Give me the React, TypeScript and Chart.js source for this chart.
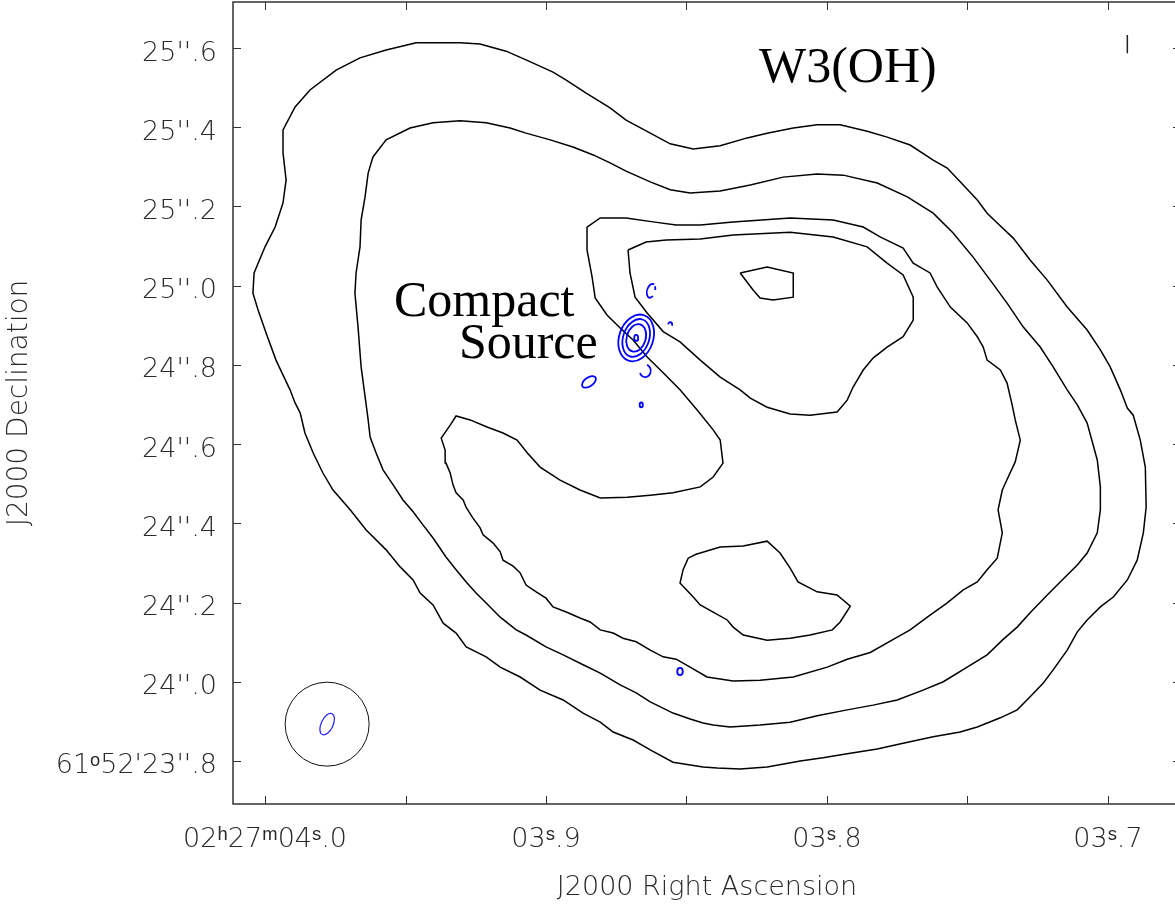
import React, { useEffect, useRef } from "react";
import { Chart, registerables } from "chart.js";

Chart.register(...registerables);

type P = [number, number];

// ---- axis ticks (RA in seconds of time past 02h27m, Dec in arcsec past 61°52') ----
const xTickValues = [4.0, 3.95, 3.9, 3.85, 3.8, 3.75, 3.7];
const xTickLabels = ["02ʰ27ᵐ04ˢ.0", "", "03ˢ.9", "", "03ˢ.8", "", "03ˢ.7"];
const yTickValues = [23.8, 24.0, 24.2, 24.4, 24.6, 24.8, 25.0, 25.2, 25.4, 25.6];
const yTickLabels = ["61ᵒ52'23''.8", "24''.0", "24''.2", "24''.4", "24''.6", "24''.8", "25''.0", "25''.2", "25''.4", "25''.6"];
const xRange: P = [3.674, 4.0114];
const yRange: P = [23.6914, 25.7161];

// ---- black contours (RA s, Dec arcsec) ----
const contourOuter: P[] = [
  [3.9462, 25.613], [3.9377, 25.613], [3.9306, 25.613], [3.9235, 25.61], [3.9142, 25.592], [3.9071, 25.57],
  [3.8975, 25.539], [3.8928, 25.519], [3.8857, 25.486], [3.8772, 25.449], [3.8715, 25.418], [3.8637, 25.388],
  [3.8558, 25.358], [3.8476, 25.345], [3.838, 25.353], [3.8284, 25.373], [3.8213, 25.385], [3.812, 25.398],
  [3.8035, 25.406], [3.7953, 25.406], [3.7857, 25.39], [3.7786, 25.375], [3.7704, 25.355], [3.7622, 25.317],
  [3.7572, 25.297], [3.7515, 25.254], [3.7465, 25.216], [3.743, 25.183], [3.7394, 25.158], [3.7337, 25.12],
  [3.7277, 25.065], [3.7216, 25.014], [3.7145, 24.946], [3.7074, 24.888], [3.7027, 24.838], [3.6992, 24.795],
  [3.6956, 24.737], [3.6931, 24.691], [3.691, 24.673], [3.6885, 24.61], [3.6867, 24.542], [3.6864, 24.441],
  [3.6874, 24.376], [3.6896, 24.307], [3.6931, 24.257], [3.6981, 24.214], [3.7027, 24.189], [3.7074, 24.156],
  [3.7109, 24.126], [3.7145, 24.08], [3.7195, 24.03], [3.723, 23.997], [3.7277, 23.962], [3.7323, 23.929],
  [3.7383, 23.909], [3.7465, 23.886], [3.7526, 23.873], [3.7622, 23.861], [3.7729, 23.845], [3.7821, 23.83],
  [3.7928, 23.818], [3.8014, 23.808], [3.8095, 23.8], [3.8213, 23.785], [3.8309, 23.78], [3.8391, 23.782],
  [3.8441, 23.785], [3.8548, 23.797], [3.8629, 23.828], [3.869, 23.853], [3.8761, 23.873], [3.8807, 23.898],
  [3.8868, 23.921], [3.8939, 23.954], [3.9021, 23.979], [3.9092, 24.012], [3.9163, 24.037], [3.9213, 24.063],
  [3.9284, 24.088], [3.932, 24.123], [3.9366, 24.148], [3.9402, 24.194], [3.9448, 24.224], [3.9473, 24.257],
  [3.9519, 24.29], [3.9569, 24.333], [3.964, 24.383], [3.9697, 24.434], [3.9758, 24.484], [3.9794, 24.527],
  [3.9829, 24.578], [3.9858, 24.628], [3.9875, 24.679], [3.9893, 24.704], [3.9911, 24.737], [3.9961, 24.812],
  [3.9996, 24.88], [4.0025, 24.939], [4.0043, 24.981], [4.0039, 25.032], [4.0, 25.098], [3.9964, 25.148],
  [3.9936, 25.209], [3.9925, 25.267], [3.9936, 25.335], [3.9936, 25.393], [3.9893, 25.451], [3.984, 25.494],
  [3.9747, 25.544], [3.9662, 25.575], [3.9569, 25.595],
];

const contourSecond: P[] = [
  [3.9616, 25.325], [3.9569, 25.368], [3.9484, 25.398], [3.9402, 25.411], [3.9306, 25.416], [3.9213, 25.411],
  [3.9128, 25.398], [3.9071, 25.385], [3.8985, 25.368], [3.8904, 25.35], [3.8832, 25.33], [3.8772, 25.31],
  [3.8715, 25.289], [3.8629, 25.262], [3.8558, 25.242], [3.8487, 25.234], [3.838, 25.239], [3.8273, 25.254],
  [3.8156, 25.274], [3.8035, 25.282], [3.7942, 25.279], [3.7821, 25.259], [3.7714, 25.224], [3.7622, 25.183],
  [3.7551, 25.133], [3.748, 25.072], [3.7419, 25.014], [3.7359, 24.956], [3.7302, 24.896], [3.7241, 24.845],
  [3.7195, 24.795], [3.7145, 24.737], [3.7109, 24.699], [3.7074, 24.653], [3.7038, 24.56], [3.7027, 24.492],
  [3.7027, 24.434], [3.7038, 24.376], [3.7074, 24.325], [3.7109, 24.295], [3.717, 24.252], [3.7216, 24.219],
  [3.7277, 24.174], [3.7323, 24.138], [3.7373, 24.107], [3.743, 24.068], [3.7501, 24.037], [3.7586, 24.0],
  [3.7658, 23.979], [3.775, 23.954], [3.7836, 23.941], [3.7928, 23.929], [3.8035, 23.914], [3.8131, 23.898],
  [3.8238, 23.891], [3.8345, 23.886], [3.8405, 23.891], [3.8441, 23.896], [3.8487, 23.906], [3.8548, 23.921],
  [3.8629, 23.949], [3.8679, 23.972], [3.8736, 23.992], [3.8807, 24.022], [3.8868, 24.043], [3.8939, 24.068],
  [3.9, 24.088], [3.9071, 24.118], [3.9106, 24.131], [3.9163, 24.163], [3.9213, 24.199], [3.9249, 24.224],
  [3.9284, 24.252], [3.932, 24.283], [3.9356, 24.315], [3.9402, 24.363], [3.9438, 24.396], [3.9473, 24.429],
  [3.9509, 24.459], [3.9544, 24.497], [3.958, 24.535], [3.9605, 24.578], [3.9626, 24.618], [3.9633, 24.661],
  [3.964, 24.699], [3.9658, 24.795], [3.9669, 24.896], [3.968, 24.981], [3.9676, 25.032], [3.9662, 25.098],
  [3.9658, 25.166], [3.9644, 25.224], [3.9633, 25.284],
];

const contourThird: P[] = [
  [3.8854, 25.148], [3.8807, 25.171], [3.8715, 25.171], [3.8619, 25.161], [3.8537, 25.153], [3.8451, 25.153],
  [3.8334, 25.161], [3.8131, 25.171], [3.7978, 25.166], [3.7871, 25.148], [3.7811, 25.123], [3.7729, 25.095],
  [3.7693, 25.057], [3.7633, 25.032], [3.7608, 24.997], [3.7561, 24.946], [3.7501, 24.906], [3.7465, 24.871],
  [3.7444, 24.845], [3.743, 24.812], [3.7383, 24.787], [3.7359, 24.754], [3.7341, 24.699], [3.733, 24.661],
  [3.7312, 24.61], [3.733, 24.555], [3.7355, 24.517], [3.7376, 24.484], [3.7391, 24.434], [3.7376, 24.376],
  [3.7394, 24.312], [3.743, 24.283], [3.7465, 24.252], [3.7515, 24.232], [3.7572, 24.199], [3.7643, 24.163],
  [3.7704, 24.131], [3.7764, 24.107], [3.7846, 24.074], [3.7928, 24.057], [3.7999, 24.037], [3.812, 24.012],
  [3.8238, 24.004], [3.8334, 24.002], [3.8427, 24.012], [3.8487, 24.037], [3.8537, 24.057], [3.8583, 24.063],
  [3.8629, 24.08], [3.8679, 24.101], [3.8726, 24.11], [3.8761, 24.123], [3.8807, 24.131], [3.8843, 24.151],
  [3.8879, 24.161], [3.8928, 24.176], [3.8975, 24.189], [3.9, 24.211], [3.9035, 24.227], [3.9071, 24.244],
  [3.9092, 24.275], [3.9117, 24.292], [3.9153, 24.307], [3.9163, 24.328], [3.9188, 24.35], [3.9224, 24.371],
  [3.9235, 24.389], [3.926, 24.413], [3.9284, 24.44], [3.9295, 24.459], [3.932, 24.477], [3.9331, 24.497],
  [3.9341, 24.527], [3.9356, 24.552], [3.9359, 24.585], [3.9373, 24.615], [3.9341, 24.648], [3.932, 24.671],
  [3.927, 24.661], [3.921, 24.643], [3.9153, 24.628], [3.9103, 24.61], [3.9067, 24.578], [3.9021, 24.542],
  [3.895, 24.509], [3.8879, 24.484], [3.8807, 24.464], [3.8711, 24.466], [3.8629, 24.471], [3.8548, 24.477],
  [3.8451, 24.492], [3.8405, 24.517], [3.837, 24.552], [3.838, 24.61], [3.8405, 24.636], [3.8462, 24.686],
  [3.8523, 24.737], [3.8583, 24.78], [3.864, 24.82], [3.869, 24.863], [3.8736, 24.893], [3.8783, 24.926],
  [3.8825, 24.969], [3.8836, 25.022], [3.8854, 25.09],
];

const contourInner: P[] = [
  [3.8708, 25.09], [3.8644, 25.11], [3.8572, 25.115], [3.8451, 25.118], [3.8334, 25.128], [3.8131, 25.135],
  [3.7978, 25.123], [3.7857, 25.098], [3.7786, 25.057], [3.7729, 25.027], [3.7693, 24.971], [3.7693, 24.913],
  [3.7729, 24.871], [3.7786, 24.845], [3.7836, 24.817], [3.7871, 24.787], [3.7907, 24.744], [3.7928, 24.711],
  [3.7964, 24.681], [3.806, 24.673], [3.8131, 24.676], [3.8213, 24.693], [3.8273, 24.716], [3.8309, 24.737],
  [3.838, 24.769], [3.8451, 24.812], [3.8523, 24.858], [3.8583, 24.884], [3.864, 24.931], [3.8683, 24.971],
  [3.8701, 25.032],
];

const contourPeak: P[] = [
  [3.8309, 25.032], [3.8213, 25.047], [3.812, 25.032], [3.812, 24.971], [3.8192, 24.964], [3.8238, 24.969],
  [3.8263, 24.989],
];

const contourSouth: P[] = [
  [3.8451, 24.325], [3.838, 24.34], [3.8298, 24.343], [3.8213, 24.355], [3.8167, 24.325], [3.8131, 24.287],
  [3.8103, 24.252], [3.8035, 24.227], [3.7964, 24.219], [3.7917, 24.191], [3.7953, 24.151], [3.7981, 24.131],
  [3.806, 24.118], [3.8131, 24.11], [3.8213, 24.105], [3.8298, 24.118], [3.8334, 24.138], [3.8355, 24.156],
  [3.8405, 24.176], [3.8451, 24.194], [3.8476, 24.214], [3.8523, 24.249], [3.8512, 24.283], [3.8494, 24.312],
  [3.8466, 24.322],
];

const markerLine: P[] = [[3.6931, 25.633], [3.6931, 25.587]];

// ---- blue compact source: nested contours (semi-axes in arcsec, tilt in degrees) ----
const compactCenter: P = [3.8679, 24.868];
const compactMajor = [0.0606, 0.0492, 0.0354, 0.0076];
const compactMinor = [0.0429, 0.0328, 0.024, 0.005];
const compactTilt = [19, 19, 16, 0];

// small blue features: [ra, dec, semiMajor, semiMinor, tiltDeg, startDeg, endDeg]
const blueBlobs: number[][] = [
  [3.8847, 24.757, 0.02, 0.011, 55, 0, 360],
  [3.8661, 24.699, 0.006, 0.004, 0, 0, 360],
  [3.8523, 24.026, 0.009, 0.007, 0, 0, 360],
  [3.8626, 24.987, 0.018, 0.01, 15, 40, 290],
  [3.8626, 24.987, 0.018, 0.01, 15, 310, 345],
  [3.8558, 24.901, 0.007, 0.005, 0, 190, 380],
  [3.8647, 24.785, 0.016, 0.014, 0, 290, 520],
];

// beam (restoring beams) in the lower-left corner
const beamCenter: P = [3.9779, 23.893];
const beamRadius = 0.106;
const beamBlue = [0.029, 0.015, 25];

// annotations
const noteTexts = ["W3(OH)", "Compact", "Source"];
const noteRA = [3.8242, 3.9541, 3.931];
const noteDec = [25.514, 24.923, 24.817];

const TICK_FONT = "'DejaVu Sans', sans-serif";
const TEXT_COLOR = "#2a2a2a";

function labelFor(values: number[], labels: string[], v: number): string {
  const i = values.findIndex((t) => Math.abs(t - v) < 1e-6);
  return i >= 0 ? labels[i] : "";
}

const toXY = (pts: P[], close: boolean) => {
  const d = pts.map(([x, y]) => ({ x, y }));
  if (close && d.length) d.push({ ...d[0] });
  return d;
};

const overlayPlugin = {
  id: "overlay",
  afterDatasetsDraw(chart: any) {
    const { ctx, chartArea } = chart;
    const xs = chart.scales.x;
    const ys = chart.scales.y;
    const pxPerArcsec = Math.abs(ys.getPixelForValue(25) - ys.getPixelForValue(24));
    ctx.save();
    ctx.beginPath();
    ctx.rect(chartArea.left, chartArea.top, chartArea.right - chartArea.left, chartArea.bottom - chartArea.top);
    ctx.clip();

    const ell = (ra: number, dec: number, a: number, b: number, tilt: number, s: number, e: number, color: string, lw: number) => {
      ctx.beginPath();
      ctx.strokeStyle = color;
      ctx.lineWidth = lw;
      ctx.ellipse(
        xs.getPixelForValue(ra),
        ys.getPixelForValue(dec),
        b * pxPerArcsec,
        a * pxPerArcsec,
        (tilt * Math.PI) / 180,
        (s * Math.PI) / 180,
        (e * Math.PI) / 180
      );
      ctx.stroke();
    };

    compactMajor.forEach((a, i) =>
      ell(compactCenter[0], compactCenter[1], a, compactMinor[i], compactTilt[i], 0, 360, "#0000ff", 1.8)
    );
    blueBlobs.forEach((b) => ell(b[0], b[1], b[2], b[3], b[4], b[5], b[6], "#0000ff", 1.8));

    ell(beamCenter[0], beamCenter[1], beamRadius, beamRadius, 0, 0, 360, "#111", 1);
    ell(beamCenter[0], beamCenter[1], beamBlue[0], beamBlue[1], beamBlue[2], 0, 360, "#2020ff", 1.2);

    // annotations
    ctx.fillStyle = "#000";
    ctx.font = "50px 'Liberation Serif', 'Times New Roman', serif";
    ctx.textAlign = "left";
    ctx.textBaseline = "alphabetic";
    noteTexts.forEach((t, i) => ctx.fillText(t, xs.getPixelForValue(noteRA[i]), ys.getPixelForValue(noteDec[i])));
    ctx.restore();
  },
  afterDraw(chart: any) {
    const { ctx, chartArea } = chart;
    const { left, right, top, bottom } = chartArea;
    const xs = chart.scales.x;
    const ys = chart.scales.y;
    ctx.save();
    ctx.strokeStyle = "#333";
    ctx.lineWidth = 1.5;
    ctx.strokeRect(left, top, right - left, bottom - top);
    ctx.lineWidth = 1;
    ctx.strokeStyle = "#333";
    const L = 8;
    ctx.beginPath();
    xTickValues.forEach((v) => {
      const px = Math.round(xs.getPixelForValue(v)) + 0.5;
      ctx.moveTo(px, bottom);
      ctx.lineTo(px, bottom - L);
      ctx.moveTo(px, top);
      ctx.lineTo(px, top + L);
    });
    yTickValues.forEach((v) => {
      const py = Math.round(ys.getPixelForValue(v)) + 0.5;
      ctx.moveTo(left, py);
      ctx.lineTo(left + L, py);
      ctx.moveTo(right, py);
      ctx.lineTo(right - L, py);
    });
    ctx.stroke();
    ctx.restore();
  },
};

export default function App() {
  const ref = useRef<HTMLCanvasElement | null>(null);
  useEffect(() => {
    if (!ref.current) return;
    const line = (pts: P[], close: boolean, color = "#000", width = 1.5) => ({
      data: toXY(pts, close),
      showLine: true,
      pointRadius: 0,
      borderColor: color,
      borderWidth: width,
      backgroundColor: color,
      fill: false,
      tension: 0,
    });
    const chart = new Chart(ref.current, {
      type: "scatter",
      data: {
        datasets: [
          line(contourOuter, true),
          line(contourSecond, true),
          line(contourThird, true),
          line(contourInner, true),
          line(contourPeak, true),
          line(contourSouth, true),
          line(markerLine, false, "#222", 1.5),
        ],
      },
      options: {
        responsive: false,
        animation: false,
        devicePixelRatio: 1,
        layout: { padding: { top: 2, right: 2, left: 0, bottom: 0 } },
        plugins: { legend: { display: false }, tooltip: { enabled: false } },
        events: [],
        scales: {
          x: {
            type: "linear",
            reverse: true,
            min: xRange[0],
            max: xRange[1],
            afterBuildTicks: (s: any) => {
              s.ticks = xTickValues.map((v) => ({ value: v }));
            },
            afterFit: (s: any) => {
              s.height = 105;
              s.paddingLeft = 0;
              s.paddingRight = 0;
              s.paddingTop = 0;
              s.paddingBottom = 0;
            },
            grid: { display: false, drawTicks: false },
            border: { display: false },
            ticks: {
              autoSkip: false,
              maxRotation: 0,
              minRotation: 0,
              padding: 20,
              color: TEXT_COLOR,
              font: { family: TICK_FONT, size: 27, weight: "200" as any },
              callback: (v: any) => labelFor(xTickValues, xTickLabels, Number(v)),
            },
            title: {
              display: true,
              text: "J2000 Right Ascension",
              color: TEXT_COLOR,
              font: { family: TICK_FONT, size: 27, weight: "200" as any },
              padding: { top: 0, bottom: 5 },
            },
          },
          y: {
            type: "linear",
            min: yRange[0],
            max: yRange[1],
            afterBuildTicks: (s: any) => {
              s.ticks = yTickValues.map((v) => ({ value: v }));
            },
            afterFit: (s: any) => {
              s.width = 233;
              s.paddingLeft = 0;
              s.paddingRight = 0;
              s.paddingTop = 0;
              s.paddingBottom = 0;
            },
            grid: { display: false, drawTicks: false },
            border: { display: false },
            ticks: {
              autoSkip: false,
              padding: 16,
              labelOffset: 5.5,
              color: TEXT_COLOR,
              font: { family: TICK_FONT, size: 27, weight: "200" as any },
              callback: (v: any) => labelFor(yTickValues, yTickLabels, Number(v)),
            },
            title: {
              display: true,
              text: "J2000 Declination",
              color: TEXT_COLOR,
              font: { family: TICK_FONT, size: 28, weight: "200" as any },
              padding: { top: 3, bottom: 0 },
            },
          },
        },
      },
      plugins: [overlayPlugin],
    });
    return () => chart.destroy();
  }, []);

  return (
    <div style={{ position: "absolute", left: 0, top: 0, width: 1175, height: 909, overflow: "hidden", background: "#fff" }}>
      <canvas ref={ref} width={1183} height={909} style={{ display: "block" }} />
    </div>
  );
}
